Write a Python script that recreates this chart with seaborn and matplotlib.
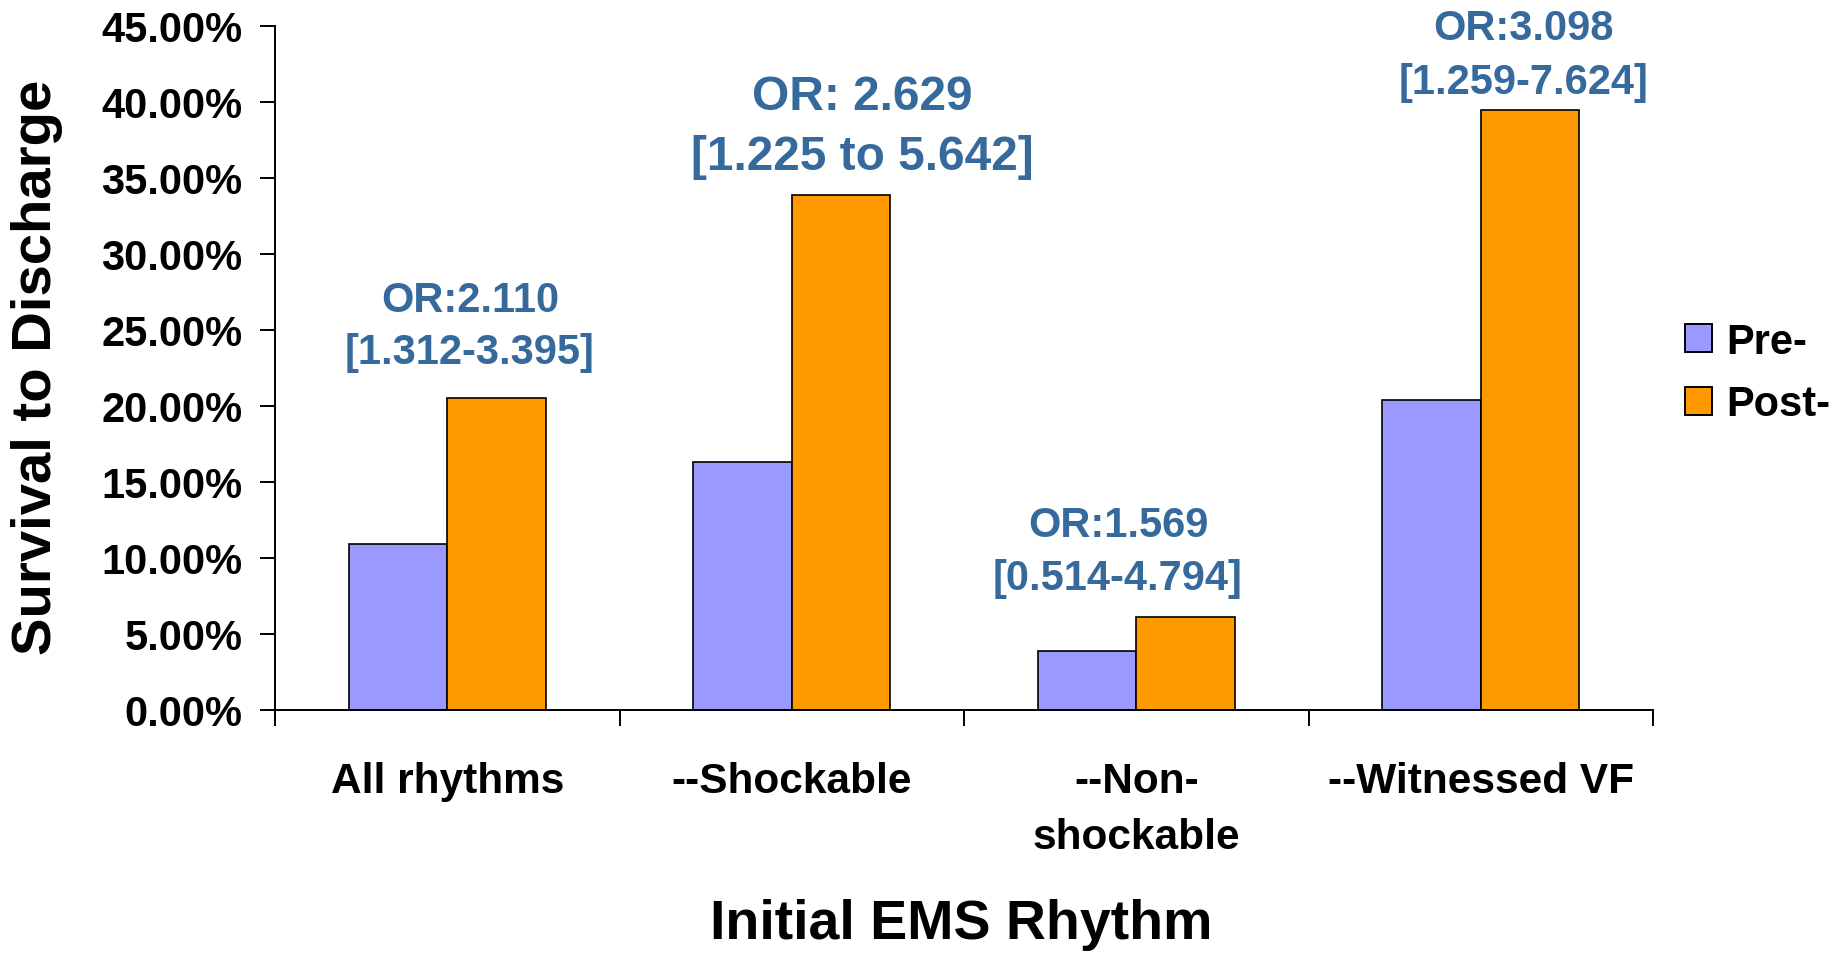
import matplotlib
matplotlib.use("Agg")
import matplotlib.pyplot as plt
import matplotlib.ticker as mticker
from matplotlib.patches import Patch
import numpy as np
import pandas as pd
import seaborn as sns

# Survival to discharge (%) by initial EMS rhythm, before and after
rhythms = ["All rhythms", "--Shockable", "--Non-\nshockable", "--Witnessed VF"]
pre_rates = [10.9, 16.3, 3.9, 20.4]
post_rates = [20.5, 33.9, 6.1, 39.5]
periods = ["Pre-", "Post-"]
odds_ratios = ["OR:2.110", "OR: 2.629", "OR:1.569", "OR:3.098"]
conf_ints = ["[1.312-3.395]", "[1.225 to 5.642]", "[0.514-4.794]", "[1.259-7.624]"]
yticks = [0, 5, 10, 15, 20, 25, 30, 35, 40, 45]

df = pd.DataFrame({
    "rhythm": rhythms * 2,
    "rate": pre_rates + post_rates,
    "period": [periods[0]] * len(rhythms) + [periods[1]] * len(rhythms),
})

sns.set_style("white")
plt.rcParams["font.family"] = ["Liberation Sans", "DejaVu Sans"]
plt.rcParams["font.weight"] = "bold"
for key in ["text.color", "axes.labelcolor", "xtick.color", "ytick.color"]:
    plt.rcParams[key] = "black"

colors = {"Pre-": "#9999FF", "Post-": "#FF9900"}
ann_color = "#366A9C"

fig = plt.figure(figsize=(18.37, 9.54), dpi=100)
ax = fig.add_axes([275 / 1837, 1 - 711 / 954, (1653 - 275) / 1837, (711 - 27) / 954])

sns.barplot(data=df, x="rhythm", y="rate", hue="period", order=rhythms,
            hue_order=periods, palette=colors, edgecolor="black",
            linewidth=1.2, width=0.571, gap=0, ax=ax, legend=False,
            saturation=1)

ax.set_xlim(-0.5, len(rhythms) - 0.5)
ax.set_ylim(0, 45)
ax.set_yticks(yticks)
ax.yaxis.set_major_formatter(mticker.FuncFormatter(lambda v, p: f"{v:.2f}%"))

for side in ["top", "right"]:
    ax.spines[side].set_visible(False)
for side in ["left", "bottom"]:
    ax.spines[side].set_color("black")
    ax.spines[side].set_linewidth(1.4)
ax.spines["left"].set_bounds(-1.0, 45)

ax.tick_params(axis="y", which="major", direction="out", length=10.5, width=1.4,
               color="black", pad=13, labelsize=30, left=True, labelcolor="black")
ax.set_xticks(np.arange(len(rhythms)))
ax.set_xticklabels(rhythms, fontsize=30.5, fontweight="bold", linespacing=1.5,
                   va="top", color="black")
ax.tick_params(axis="x", which="major", length=0, pad=37)
ax.set_xticks(np.arange(-0.5, len(rhythms)), minor=True)
ax.tick_params(axis="x", which="minor", direction="out", length=11.5, width=1.4,
               color="black", bottom=True)
for lbl in ax.get_yticklabels():
    lbl.set_fontweight("bold")

ax.set_xlabel("")
ax.set_ylabel("")
fig.text(961 / 1837, 1 - 925 / 954, "Initial EMS Rhythm", ha="center", va="center",
         fontsize=40, fontweight="bold", color="black")
fig.text(37 / 1837, 1 - 367 / 954, "Survival to Discharge", ha="center", va="center",
         rotation=90, fontsize=40.5, fontweight="bold", color="black")

# odds ratio annotations above each group (baseline positions)
ann_x = [0.066, 1.204, 1.947, 3.123]
ann_y1 = [26.25, 39.54, 11.45, 44.14]
ann_y2 = [22.83, 35.59, 7.96, 40.59]
ann_size = [30, 34.5, 30, 30]
for x, y1, y2, t1, t2, fs in zip(ann_x, ann_y1, ann_y2, odds_ratios, conf_ints, ann_size):
    ax.text(x, y1, t1, ha="center", va="baseline", fontsize=fs, fontweight="bold",
            color=ann_color, clip_on=False)
    ax.text(x, y2, t2, ha="center", va="baseline", fontsize=fs, fontweight="bold",
            color=ann_color, clip_on=False)

handles = [Patch(facecolor=colors[p], edgecolor="black", linewidth=1.4, label=p)
           for p in periods]
leg = fig.legend(handles=handles, loc="center left",
                 bbox_to_anchor=(1685 / 1837, 1 - 374 / 954), frameon=False,
                 prop={"weight": "bold", "size": 30},
                 handlelength=0.65, handleheight=0.67, handletextpad=0.33,
                 labelspacing=0.55, borderpad=0, borderaxespad=0)
for t in leg.get_texts():
    t.set_color("black")

fig.savefig("out.png", dpi=100)
